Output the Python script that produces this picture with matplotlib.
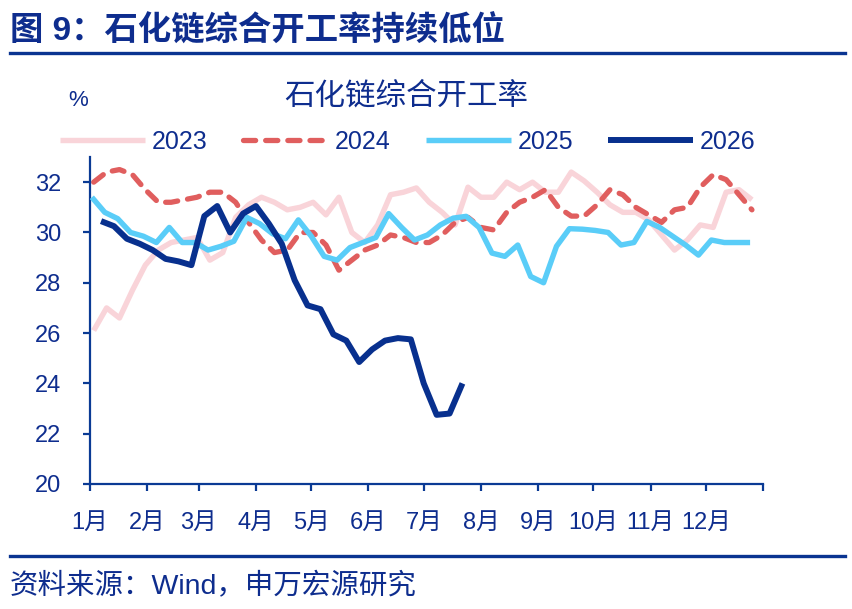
import matplotlib
matplotlib.use("Agg")
import matplotlib.pyplot as plt
from matplotlib.lines import Line2D
import pandas as pd
import numpy as np

plt.rcParams['font.family'] = ['Liberation Sans', 'Noto Sans CJK SC', 'DejaVu Sans']

# ---------------- data ----------------
months = ['1月', '2月', '3月', '4月', '5月', '6月', '7月', '8月', '9月', '10月', '11月', '12月']
month_start_days = [0, 31, 59, 90, 120, 151, 181, 212, 243, 273, 304, 334, 365]

start_2023 = '2023-01-03'
vals_2023 = [26.1, 27.0, 26.6, 27.7, 28.7, 29.3, 29.6, 29.7, 29.8, 28.9, 29.2, 30.6, 31.1,
             31.4, 31.2, 30.9, 31.0, 31.2, 30.7, 31.4, 30.0, 29.6, 30.3, 31.5, 31.6, 31.77,
             31.2, 30.8, 30.3, 31.8, 31.4, 31.4, 32.0, 31.7, 32.0, 31.6, 31.6, 32.4, 32.05,
             31.6, 31.1, 30.8, 30.8, 30.5, 29.9, 29.3, 29.7, 30.3, 30.2, 31.6, 31.7, 31.3]

start_2024 = '2024-01-03'
vals_2024 = [32.0, 32.4, 32.5, 32.3, 31.7, 31.2, 31.2, 31.3, 31.4, 31.6, 31.6, 31.2, 30.4,
             29.7, 29.2, 29.3, 30.0, 30.0, 29.5, 28.5, 28.9, 29.3, 29.5, 29.9, 29.8, 29.6,
             29.6, 29.9, 30.4, 30.6, 30.2, 30.1, 30.8, 31.2, 31.4, 31.7, 31.0, 30.65, 30.65,
             31.1, 31.7, 31.5, 31.0, 30.7, 30.4, 30.9, 31.0, 31.8, 32.3, 32.1, 31.5, 30.9]

start_2025 = '2025-01-02'
vals_2025 = [31.4, 30.8, 30.55, 30.0, 29.85, 29.6, 30.2, 29.6, 29.6, 29.3, 29.45, 29.65, 30.6,
             30.35, 29.95, 29.75, 30.5, 29.85, 29.05, 28.9, 29.4, 29.6, 29.8, 30.75, 30.2, 29.7,
             29.9, 30.3, 30.57, 30.64, 30.2, 29.18, 29.05, 29.5, 28.25, 28.0, 29.45, 30.15, 30.13,
             30.08, 30.0, 29.5, 29.6, 30.44, 30.2, 29.85, 29.5, 29.1, 29.7, 29.6, 29.6, 29.6]

start_2026 = '2026-01-07'
vals_2026 = [30.45, 30.25, 29.75, 29.55, 29.3, 28.95, 28.85, 28.7, 30.65, 31.05, 30.0, 30.75,
             31.05, 30.35, 29.55, 28.1, 27.1, 26.95, 25.95, 25.7, 24.85, 25.35, 25.7, 25.8,
             25.75, 24.0, 22.75, 22.8, 24.0]

years = ['2023', '2024', '2025', '2026']
starts = [start_2023, start_2024, start_2025, start_2026]
series = [vals_2023, vals_2024, vals_2025, vals_2026]
colors = ['#F9D4D9', '#E05E5E', '#5ACDF8', '#08308E']

navy = '#0E2D8E'

def day_of_year(start, n):
    d = pd.date_range(start, periods=n, freq='7D')
    return np.array([(x - pd.Timestamp(x.year, 1, 1)).days for x in d], dtype=float)

# ---------------- figure ----------------
W, H = 852, 609
fig = plt.figure(figsize=(W / 100, H / 100), dpi=100)
ax = fig.add_axes([90 / W, (H - 484) / H, 673 / W, (484 - 157) / H])

widths = {'2023': 3.9, '2024': 3.8, '2025': 3.9, '2026': 4.3}
handles = []
for yr, st, vals, c in zip(years, starts, series, colors):
    x = day_of_year(st, len(vals))
    if yr == '2024':
        ln, = ax.plot(x, vals, color=c, lw=widths[yr], dashes=(2.3, 1.9),
                      dash_capstyle='round', label=yr, zorder=2)
    else:
        z = {'2023': 1, '2025': 3, '2026': 4}[yr]
        ln, = ax.plot(x, vals, color=c, lw=widths[yr], solid_joinstyle='round',
                      solid_capstyle='butt', label=yr, zorder=z)
    handles.append(ln)

ax.set_xlim(0, 365)
ax.set_ylim(20, 33)
ax.set_yticks([20, 22, 24, 26, 28, 30, 32])
ax.set_xticks(month_start_days)
ax.set_xticklabels(months + [''])

for s in ['top', 'right']:
    ax.spines[s].set_visible(False)
for s in ['left', 'bottom']:
    ax.spines[s].set_color('#0A3A94')
    ax.spines[s].set_linewidth(1.6)

ax.tick_params(axis='both', colors='#0A3A94', width=1.6, length=5, direction='out',
               labelcolor=navy, labelsize=17)
ax.tick_params(axis='x', pad=15)
ax.tick_params(axis='y', pad=16)

# legend
leg = ax.legend(handles=handles, loc='center left',
                bbox_to_anchor=(60 / W, 1 - 142 / H), bbox_transform=fig.transFigure,
                ncol=4, frameon=False, fontsize=18, handlelength=3.4,
                handletextpad=0.28, columnspacing=1.4, borderpad=0, borderaxespad=0)
for t in leg.get_texts():
    t.set_color(navy)

# titles and labels
fig.text(10 / W, 1 - 32 / H, '图 9：石化链综合开工率持续低位', fontsize=24,
         fontweight='bold', color=navy, va='center', ha='left')
fig.add_artist(Line2D([10 / W, 845 / W], [1 - 53 / H, 1 - 53 / H],
                      transform=fig.transFigure, color='#0A3491', lw=2.4))
fig.text(406 / W, 1 - 97 / H, '石化链综合开工率', fontsize=22, color=navy,
         va='center', ha='center')
fig.text(78 / W, 1 - 101 / H, '%', fontsize=16, color=navy, va='center', ha='center')

fig.add_artist(Line2D([10 / W, 845 / W], [1 - 556 / H, 1 - 556 / H],
                      transform=fig.transFigure, color='#0A3491', lw=2.4))
fig.text(10 / W, 1 - 587 / H, '资料来源：Wind，申万宏源研究', fontsize=20.5,
         color=navy, va='center', ha='left')

fig.savefig('out.png', dpi=100)
